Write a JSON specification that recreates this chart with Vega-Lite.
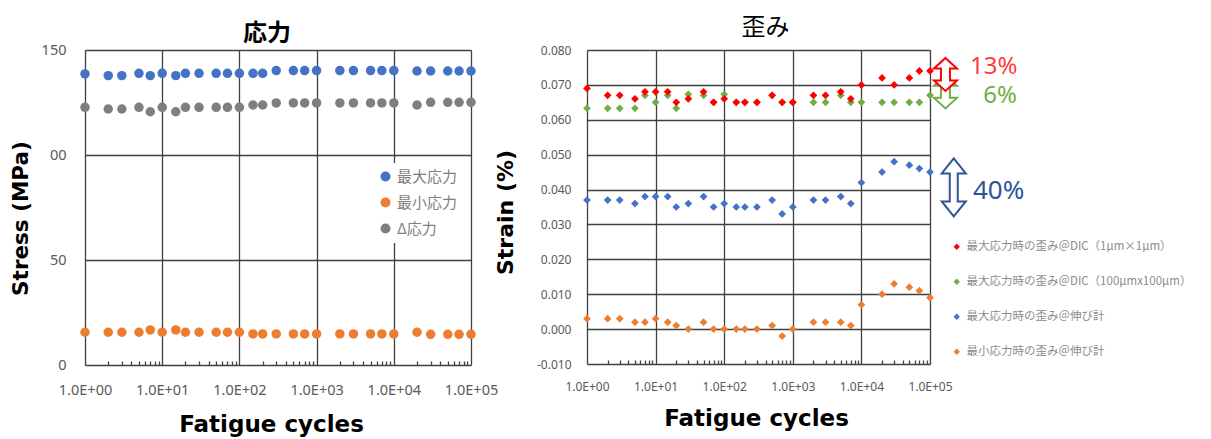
{
  "$schema": "https://vega.github.io/schema/vega-lite/v6.json",
  "background": "white",
  "padding": {"left": 10, "top": 16, "right": 5, "bottom": 5},
  "bounds": "flush",
  "spacing": 116,
  "resolve": {"scale": {"color": "independent"}, "legend": {"color": "independent"}},
  "config": {"view": {"stroke": null}, "font": "Noto Sans"},
  "datasets": {
    "stress": [
      {"c":1,"s":"最大応力","v":138.6},{"c":2,"s":"最大応力","v":137.8},{"c":3,"s":"最大応力","v":137.8},{"c":5,"s":"最大応力","v":138.9},{"c":7,"s":"最大応力","v":137.8},{"c":10,"s":"最大応力","v":138.9},{"c":15,"s":"最大応力","v":137.8},{"c":20,"s":"最大応力","v":138.9},{"c":30,"s":"最大応力","v":138.9},{"c":50,"s":"最大応力","v":138.9},{"c":70,"s":"最大応力","v":138.9},{"c":100,"s":"最大応力","v":138.9},{"c":150,"s":"最大応力","v":138.9},{"c":200,"s":"最大応力","v":138.9},{"c":300,"s":"最大応力","v":140.2},{"c":500,"s":"最大応力","v":140.2},{"c":700,"s":"最大応力","v":140.2},{"c":1000,"s":"最大応力","v":140.2},{"c":2000,"s":"最大応力","v":140.2},{"c":3000,"s":"最大応力","v":140.2},{"c":5000,"s":"最大応力","v":140.2},{"c":7000,"s":"最大応力","v":140.2},{"c":10000,"s":"最大応力","v":140.2},{"c":20000,"s":"最大応力","v":140.0},{"c":30000,"s":"最大応力","v":140.0},{"c":50000,"s":"最大応力","v":140.0},{"c":70000,"s":"最大応力","v":140.0},{"c":100000,"s":"最大応力","v":140.0},
      {"c":1,"s":"最小応力","v":15.6},{"c":2,"s":"最小応力","v":15.6},{"c":3,"s":"最小応力","v":15.6},{"c":5,"s":"最小応力","v":15.6},{"c":7,"s":"最小応力","v":16.7},{"c":10,"s":"最小応力","v":15.6},{"c":15,"s":"最小応力","v":16.7},{"c":20,"s":"最小応力","v":15.6},{"c":30,"s":"最小応力","v":15.6},{"c":50,"s":"最小応力","v":15.6},{"c":70,"s":"最小応力","v":15.6},{"c":100,"s":"最小応力","v":15.6},{"c":150,"s":"最小応力","v":14.8},{"c":200,"s":"最小応力","v":14.8},{"c":300,"s":"最小応力","v":14.8},{"c":500,"s":"最小応力","v":14.8},{"c":700,"s":"最小応力","v":14.8},{"c":1000,"s":"最小応力","v":14.8},{"c":2000,"s":"最小応力","v":14.8},{"c":3000,"s":"最小応力","v":14.8},{"c":5000,"s":"最小応力","v":14.8},{"c":7000,"s":"最小応力","v":14.8},{"c":10000,"s":"最小応力","v":14.8},{"c":20000,"s":"最小応力","v":15.6},{"c":30000,"s":"最小応力","v":14.6},{"c":50000,"s":"最小応力","v":14.6},{"c":70000,"s":"最小応力","v":14.6},{"c":100000,"s":"最小応力","v":14.6},
      {"c":1,"s":"Δ応力","v":122.7},{"c":2,"s":"Δ応力","v":121.9},{"c":3,"s":"Δ応力","v":121.9},{"c":5,"s":"Δ応力","v":122.7},{"c":7,"s":"Δ応力","v":120.6},{"c":10,"s":"Δ応力","v":122.7},{"c":15,"s":"Δ応力","v":120.6},{"c":20,"s":"Δ応力","v":122.7},{"c":30,"s":"Δ応力","v":122.7},{"c":50,"s":"Δ応力","v":122.7},{"c":70,"s":"Δ応力","v":122.7},{"c":100,"s":"Δ応力","v":122.7},{"c":150,"s":"Δ応力","v":123.8},{"c":200,"s":"Δ応力","v":123.8},{"c":300,"s":"Δ応力","v":124.8},{"c":500,"s":"Δ応力","v":124.8},{"c":700,"s":"Δ応力","v":124.8},{"c":1000,"s":"Δ応力","v":124.8},{"c":2000,"s":"Δ応力","v":124.8},{"c":3000,"s":"Δ応力","v":124.8},{"c":5000,"s":"Δ応力","v":124.8},{"c":7000,"s":"Δ応力","v":124.8},{"c":10000,"s":"Δ応力","v":124.8},{"c":20000,"s":"Δ応力","v":123.8},{"c":30000,"s":"Δ応力","v":125.1},{"c":50000,"s":"Δ応力","v":125.1},{"c":70000,"s":"Δ応力","v":125.1},{"c":100000,"s":"Δ応力","v":125.1}
    ],
    "strain": [
      {"c":1,"s":"最大応力時の歪み＠DIC（100μmx100μm）","v":0.0633},{"c":2,"s":"最大応力時の歪み＠DIC（100μmx100μm）","v":0.0633},{"c":3,"s":"最大応力時の歪み＠DIC（100μmx100μm）","v":0.0633},{"c":5,"s":"最大応力時の歪み＠DIC（100μmx100μm）","v":0.0633},{"c":7,"s":"最大応力時の歪み＠DIC（100μmx100μm）","v":0.067},{"c":10,"s":"最大応力時の歪み＠DIC（100μmx100μm）","v":0.065},{"c":15,"s":"最大応力時の歪み＠DIC（100μmx100μm）","v":0.067},{"c":20,"s":"最大応力時の歪み＠DIC（100μmx100μm）","v":0.0633},{"c":30,"s":"最大応力時の歪み＠DIC（100μmx100μm）","v":0.0673},{"c":50,"s":"最大応力時の歪み＠DIC（100μmx100μm）","v":0.067},{"c":70,"s":"最大応力時の歪み＠DIC（100μmx100μm）","v":0.065},{"c":100,"s":"最大応力時の歪み＠DIC（100μmx100μm）","v":0.0673},{"c":150,"s":"最大応力時の歪み＠DIC（100μmx100μm）","v":0.065},{"c":200,"s":"最大応力時の歪み＠DIC（100μmx100μm）","v":0.065},{"c":300,"s":"最大応力時の歪み＠DIC（100μmx100μm）","v":0.065},{"c":500,"s":"最大応力時の歪み＠DIC（100μmx100μm）","v":0.067},{"c":700,"s":"最大応力時の歪み＠DIC（100μmx100μm）","v":0.065},{"c":1000,"s":"最大応力時の歪み＠DIC（100μmx100μm）","v":0.065},{"c":2000,"s":"最大応力時の歪み＠DIC（100μmx100μm）","v":0.065},{"c":3000,"s":"最大応力時の歪み＠DIC（100μmx100μm）","v":0.065},{"c":5000,"s":"最大応力時の歪み＠DIC（100μmx100μm）","v":0.067},{"c":7000,"s":"最大応力時の歪み＠DIC（100μmx100μm）","v":0.065},{"c":10000,"s":"最大応力時の歪み＠DIC（100μmx100μm）","v":0.065},{"c":20000,"s":"最大応力時の歪み＠DIC（100μmx100μm）","v":0.065},{"c":30000,"s":"最大応力時の歪み＠DIC（100μmx100μm）","v":0.065},{"c":50000,"s":"最大応力時の歪み＠DIC（100μmx100μm）","v":0.065},{"c":70000,"s":"最大応力時の歪み＠DIC（100μmx100μm）","v":0.065},{"c":100000,"s":"最大応力時の歪み＠DIC（100μmx100μm）","v":0.067},
      {"c":1,"s":"最大応力時の歪み＠DIC（1μm×1μm）","v":0.069},{"c":2,"s":"最大応力時の歪み＠DIC（1μm×1μm）","v":0.067},{"c":3,"s":"最大応力時の歪み＠DIC（1μm×1μm）","v":0.067},{"c":5,"s":"最大応力時の歪み＠DIC（1μm×1μm）","v":0.066},{"c":7,"s":"最大応力時の歪み＠DIC（1μm×1μm）","v":0.068},{"c":10,"s":"最大応力時の歪み＠DIC（1μm×1μm）","v":0.068},{"c":15,"s":"最大応力時の歪み＠DIC（1μm×1μm）","v":0.068},{"c":20,"s":"最大応力時の歪み＠DIC（1μm×1μm）","v":0.065},{"c":30,"s":"最大応力時の歪み＠DIC（1μm×1μm）","v":0.066},{"c":50,"s":"最大応力時の歪み＠DIC（1μm×1μm）","v":0.068},{"c":70,"s":"最大応力時の歪み＠DIC（1μm×1μm）","v":0.065},{"c":100,"s":"最大応力時の歪み＠DIC（1μm×1μm）","v":0.066},{"c":150,"s":"最大応力時の歪み＠DIC（1μm×1μm）","v":0.065},{"c":200,"s":"最大応力時の歪み＠DIC（1μm×1μm）","v":0.065},{"c":300,"s":"最大応力時の歪み＠DIC（1μm×1μm）","v":0.065},{"c":500,"s":"最大応力時の歪み＠DIC（1μm×1μm）","v":0.067},{"c":700,"s":"最大応力時の歪み＠DIC（1μm×1μm）","v":0.065},{"c":1000,"s":"最大応力時の歪み＠DIC（1μm×1μm）","v":0.065},{"c":2000,"s":"最大応力時の歪み＠DIC（1μm×1μm）","v":0.067},{"c":3000,"s":"最大応力時の歪み＠DIC（1μm×1μm）","v":0.067},{"c":5000,"s":"最大応力時の歪み＠DIC（1μm×1μm）","v":0.068},{"c":7000,"s":"最大応力時の歪み＠DIC（1μm×1μm）","v":0.066},{"c":10000,"s":"最大応力時の歪み＠DIC（1μm×1μm）","v":0.070},{"c":20000,"s":"最大応力時の歪み＠DIC（1μm×1μm）","v":0.072},{"c":30000,"s":"最大応力時の歪み＠DIC（1μm×1μm）","v":0.070},{"c":50000,"s":"最大応力時の歪み＠DIC（1μm×1μm）","v":0.072},{"c":70000,"s":"最大応力時の歪み＠DIC（1μm×1μm）","v":0.074},{"c":100000,"s":"最大応力時の歪み＠DIC（1μm×1μm）","v":0.074},
      {"c":1,"s":"最大応力時の歪み＠伸び計","v":0.037},{"c":2,"s":"最大応力時の歪み＠伸び計","v":0.037},{"c":3,"s":"最大応力時の歪み＠伸び計","v":0.037},{"c":5,"s":"最大応力時の歪み＠伸び計","v":0.036},{"c":7,"s":"最大応力時の歪み＠伸び計","v":0.038},{"c":10,"s":"最大応力時の歪み＠伸び計","v":0.038},{"c":15,"s":"最大応力時の歪み＠伸び計","v":0.038},{"c":20,"s":"最大応力時の歪み＠伸び計","v":0.035},{"c":30,"s":"最大応力時の歪み＠伸び計","v":0.036},{"c":50,"s":"最大応力時の歪み＠伸び計","v":0.038},{"c":70,"s":"最大応力時の歪み＠伸び計","v":0.035},{"c":100,"s":"最大応力時の歪み＠伸び計","v":0.036},{"c":150,"s":"最大応力時の歪み＠伸び計","v":0.035},{"c":200,"s":"最大応力時の歪み＠伸び計","v":0.035},{"c":300,"s":"最大応力時の歪み＠伸び計","v":0.035},{"c":500,"s":"最大応力時の歪み＠伸び計","v":0.037},{"c":700,"s":"最大応力時の歪み＠伸び計","v":0.033},{"c":1000,"s":"最大応力時の歪み＠伸び計","v":0.035},{"c":2000,"s":"最大応力時の歪み＠伸び計","v":0.037},{"c":3000,"s":"最大応力時の歪み＠伸び計","v":0.037},{"c":5000,"s":"最大応力時の歪み＠伸び計","v":0.038},{"c":7000,"s":"最大応力時の歪み＠伸び計","v":0.036},{"c":10000,"s":"最大応力時の歪み＠伸び計","v":0.042},{"c":20000,"s":"最大応力時の歪み＠伸び計","v":0.045},{"c":30000,"s":"最大応力時の歪み＠伸び計","v":0.048},{"c":50000,"s":"最大応力時の歪み＠伸び計","v":0.047},{"c":70000,"s":"最大応力時の歪み＠伸び計","v":0.046},{"c":100000,"s":"最大応力時の歪み＠伸び計","v":0.045},
      {"c":1,"s":"最小応力時の歪み＠伸び計","v":0.003},{"c":2,"s":"最小応力時の歪み＠伸び計","v":0.003},{"c":3,"s":"最小応力時の歪み＠伸び計","v":0.003},{"c":5,"s":"最小応力時の歪み＠伸び計","v":0.002},{"c":7,"s":"最小応力時の歪み＠伸び計","v":0.002},{"c":10,"s":"最小応力時の歪み＠伸び計","v":0.003},{"c":15,"s":"最小応力時の歪み＠伸び計","v":0.002},{"c":20,"s":"最小応力時の歪み＠伸び計","v":0.001},{"c":30,"s":"最小応力時の歪み＠伸び計","v":0.0},{"c":50,"s":"最小応力時の歪み＠伸び計","v":0.002},{"c":70,"s":"最小応力時の歪み＠伸び計","v":0.0},{"c":100,"s":"最小応力時の歪み＠伸び計","v":0.0},{"c":150,"s":"最小応力時の歪み＠伸び計","v":0.0},{"c":200,"s":"最小応力時の歪み＠伸び計","v":0.0},{"c":300,"s":"最小応力時の歪み＠伸び計","v":0.0},{"c":500,"s":"最小応力時の歪み＠伸び計","v":0.001},{"c":700,"s":"最小応力時の歪み＠伸び計","v":-0.002},{"c":1000,"s":"最小応力時の歪み＠伸び計","v":0.0},{"c":2000,"s":"最小応力時の歪み＠伸び計","v":0.002},{"c":3000,"s":"最小応力時の歪み＠伸び計","v":0.002},{"c":5000,"s":"最小応力時の歪み＠伸び計","v":0.002},{"c":7000,"s":"最小応力時の歪み＠伸び計","v":0.001},{"c":10000,"s":"最小応力時の歪み＠伸び計","v":0.007},{"c":20000,"s":"最小応力時の歪み＠伸び計","v":0.010},{"c":30000,"s":"最小応力時の歪み＠伸び計","v":0.013},{"c":50000,"s":"最小応力時の歪み＠伸び計","v":0.012},{"c":70000,"s":"最小応力時の歪み＠伸び計","v":0.011},{"c":100000,"s":"最小応力時の歪み＠伸び計","v":0.009}
    ],
    "notes": [
      {"k":"13%","ax":168000,"ay":0.0730,"tx":850000,"ty":0.0752},
      {"k":"6%","ax":168000,"ay":0.0680,"tx":1050000,"ty":0.0667},
      {"k":"40%","ax":222000,"ay":0.0406,"tx":1000000,"ty":0.0397}
    ]
  },
  "hconcat": [
    {
      "width": 386,
      "height": 315,
      "title": {"text": "応力", "font": "Noto Sans CJK JP", "fontSize": 24, "fontWeight": "bold", "color": "#000000", "anchor": "middle", "offset": -4, "dx": -11},
      "data": {"name": "stress"},
      "layer": [
        {
          "mark": {"type": "point", "filled": true, "shape": "circle", "size": 90, "opacity": 1},
          "encoding": {
            "x": {"field": "c", "type": "quantitative", "scale": {"type": "log", "domain": [1, 100000]},
              "axis": {"values": [1, 10, 100, 1000, 10000, 100000], "labelExpr": "'1.0E+0' + round(log(datum.value) / LN10)", "grid": true, "gridColor": "#404040", "gridWidth": 1.3, "domain": false, "ticks": false, "labelFont": "Noto Sans", "labelFontSize": 14.5, "labelColor": "#595959", "labelPadding": 18, "labelFlush": false, "labelOverlap": false, "title": "Fatigue cycles", "titleFont": "DejaVu Sans", "titleFontSize": 23, "titleFontWeight": "bold", "titleColor": "#000000", "titlePadding": 17, "titleX": 186}},
            "y": {"field": "v", "type": "quantitative", "scale": {"domain": [0, 150], "nice": false},
              "axis": {"values": [0, 50, 100, 150], "labelExpr": "datum.value == 100 ? '00' : datum.label", "grid": true, "gridColor": "#404040", "gridWidth": 1.3, "domain": false, "ticks": false, "labelFont": "Noto Sans", "labelFontSize": 14.5, "labelColor": "#595959", "labelPadding": 19, "title": "Stress (MPa)", "titleFont": "DejaVu Sans", "titleFontSize": 21.5, "titleFontWeight": "bold", "titleColor": "#000000", "titlePadding": 9, "titleY": 168}},
            "color": {"field": "s", "type": "nominal", "scale": {"domain": ["最大応力", "最小応力", "Δ応力"], "range": ["#4472C4", "#ED7D31", "#7F7F7F"]},
              "legend": {"orient": "none", "legendX": 287, "legendY": 113, "title": null, "fillColor": "white", "padding": 6, "labelFont": "Noto Sans CJK JP", "labelFontSize": 15, "labelColor": "#7f7f7f", "symbolType": "circle", "symbolSize": 100, "rowPadding": 10, "symbolStrokeWidth": 0}}
          }
        },
        {
          "mark": {"type": "point", "opacity": 0},
          "encoding": {
            "x": {"field": "c", "type": "quantitative", "scale": {"type": "log", "domain": [1, 100000]},
              "axis": {"orient": "bottom", "values": [2,3,4,5,6,7,8,9,20,30,40,50,60,70,80,90,200,300,400,500,600,700,800,900,2000,3000,4000,5000,6000,7000,8000,9000,20000,30000,40000,50000,60000,70000,80000,90000], "labels": false, "grid": false, "domain": false, "ticks": true, "tickSize": -4, "tickColor": "#404040", "tickWidth": 1.3, "title": null}}
          }
        }
      ],
      "resolve": {"axis": {"x": "independent"}}
    },
    {
      "width": 343,
      "height": 314,
      "title": {"text": "歪み", "font": "Noto Sans CJK JP", "fontSize": 24, "fontWeight": "normal", "color": "#000000", "anchor": "middle", "offset": 4, "dx": 7},
      "layer": [
        {
          "data": {"name": "strain"},
          "mark": {"type": "point", "filled": true, "shape": "diamond", "size": 60, "opacity": 1},
          "encoding": {
            "x": {"field": "c", "type": "quantitative", "scale": {"type": "log", "domain": [1, 100000]},
              "axis": {"values": [1, 10, 100, 1000, 10000, 100000], "labelExpr": "'1.0E+0' + round(log(datum.value) / LN10)", "grid": true, "gridColor": "#404040", "gridWidth": 1.3, "domain": false, "ticks": false, "labelFont": "Noto Sans", "labelFontSize": 12, "labelColor": "#595959", "labelPadding": 17, "labelFlush": false, "labelOverlap": false, "title": "Fatigue cycles", "titleFont": "DejaVu Sans", "titleFontSize": 23, "titleFontWeight": "bold", "titleColor": "#000000", "titlePadding": 15, "titleX": 169}},
            "y": {"field": "v", "type": "quantitative", "scale": {"domain": [-0.01, 0.08], "nice": false},
              "axis": {"values": [-0.01, 0, 0.01, 0.02, 0.03, 0.04, 0.05, 0.06, 0.07, 0.08], "labelExpr": "replace(format(datum.value, '.3f'), '−', '-')", "grid": true, "gridColor": "#404040", "gridWidth": 1.3, "domain": false, "ticks": false, "labelFont": "Noto Sans", "labelFontSize": 12, "labelColor": "#595959", "labelPadding": 16, "title": "Strain (%)", "titleFont": "DejaVu Sans", "titleFontSize": 22, "titleFontWeight": "bold", "titleColor": "#000000", "titlePadding": 19, "titleY": 162}},
            "color": {"field": "s", "type": "nominal", "scale": {"domain": ["最大応力時の歪み＠DIC（1μm×1μm）", "最大応力時の歪み＠DIC（100μmx100μm）", "最大応力時の歪み＠伸び計", "最小応力時の歪み＠伸び計"], "range": ["#FF0000", "#70AD47", "#4472C4", "#ED7D31"]},
              "legend": {"orient": "none", "legendX": 364, "legendY": 191, "title": null, "labelFont": "Noto Sans CJK JP", "labelFontSize": 11.5, "labelColor": "#8c8c8c", "symbolType": "diamond", "symbolSize": 40, "rowPadding": 22, "labelLimit": 400, "symbolStrokeWidth": 0}}
          }
        },
        {
          "data": {"name": "strain"},
          "mark": {"type": "point", "opacity": 0},
          "encoding": {
            "x": {"field": "c", "type": "quantitative", "scale": {"type": "log", "domain": [1, 100000]},
              "axis": {"orient": "bottom", "values": [2,3,4,5,6,7,8,9,20,30,40,50,60,70,80,90,200,300,400,500,600,700,800,900,2000,3000,4000,5000,6000,7000,8000,9000,20000,30000,40000,50000,60000,70000,80000,90000], "labels": false, "grid": false, "domain": false, "ticks": true, "tickSize": -4, "tickColor": "#404040", "tickWidth": 1.3, "title": null}}
          }
        },
        {
          "data": {"name": "notes"},
          "transform": [{"filter": "datum.k == '6%'"}],
          "mark": {"type": "point", "shape": "M0,-16.5L11.5,-6L4.5,-6L4.5,6L11.5,6L0,16.5L-11.5,6L-4.5,6L-4.5,-6L-11.5,-6Z", "size": 4, "filled": true, "fill": "white", "stroke": "#70AD47", "strokeWidth": 2, "opacity": 1},
          "encoding": {
            "x": {"field": "ax", "type": "quantitative", "scale": {"type": "log", "domain": [1, 100000]}, "axis": null},
            "y": {"field": "ay", "type": "quantitative", "scale": {"domain": [-0.01, 0.08], "nice": false}, "axis": null}
          }
        },
        {
          "data": {"name": "notes"},
          "transform": [{"filter": "datum.k == '13%'"}],
          "mark": {"type": "point", "shape": "M0,-16.5L11.5,-6L4.5,-6L4.5,6L11.5,6L0,16.5L-11.5,6L-4.5,6L-4.5,-6L-11.5,-6Z", "size": 4, "filled": true, "fill": "white", "stroke": "#FF0000", "strokeWidth": 2, "opacity": 1},
          "encoding": {
            "x": {"field": "ax", "type": "quantitative", "scale": {"type": "log", "domain": [1, 100000]}, "axis": null},
            "y": {"field": "ay", "type": "quantitative", "scale": {"domain": [-0.01, 0.08], "nice": false}, "axis": null}
          }
        },
        {
          "data": {"name": "notes"},
          "transform": [{"filter": "datum.k == '40%'"}],
          "mark": {"type": "point", "shape": "M0,-29L12,-14L4,-14L4,14L12,14L0,29L-12,14L-4,14L-4,-14L-12,-14Z", "size": 4, "filled": true, "fill": "white", "stroke": "#2F5597", "strokeWidth": 2, "opacity": 1},
          "encoding": {
            "x": {"field": "ax", "type": "quantitative", "scale": {"type": "log", "domain": [1, 100000]}, "axis": null},
            "y": {"field": "ay", "type": "quantitative", "scale": {"domain": [-0.01, 0.08], "nice": false}, "axis": null}
          }
        },
        {
          "data": {"name": "notes"},
          "transform": [{"filter": "datum.k == '13%'"}],
          "mark": {"type": "text", "font": "Noto Sans", "fontSize": 24, "align": "center", "baseline": "middle", "color": "#FF3B3B"},
          "encoding": {
            "x": {"field": "tx", "type": "quantitative", "scale": {"type": "log", "domain": [1, 100000]}, "axis": null},
            "y": {"field": "ty", "type": "quantitative", "scale": {"domain": [-0.01, 0.08], "nice": false}, "axis": null},
            "text": {"field": "k"}
          }
        },
        {
          "data": {"name": "notes"},
          "transform": [{"filter": "datum.k == '6%'"}],
          "mark": {"type": "text", "font": "Noto Sans", "fontSize": 24, "align": "center", "baseline": "middle", "color": "#70AD47"},
          "encoding": {
            "x": {"field": "tx", "type": "quantitative", "scale": {"type": "log", "domain": [1, 100000]}, "axis": null},
            "y": {"field": "ty", "type": "quantitative", "scale": {"domain": [-0.01, 0.08], "nice": false}, "axis": null},
            "text": {"field": "k"}
          }
        },
        {
          "data": {"name": "notes"},
          "transform": [{"filter": "datum.k == '40%'"}],
          "mark": {"type": "text", "font": "Noto Sans", "fontSize": 26, "align": "center", "baseline": "middle", "color": "#2F5597"},
          "encoding": {
            "x": {"field": "tx", "type": "quantitative", "scale": {"type": "log", "domain": [1, 100000]}, "axis": null},
            "y": {"field": "ty", "type": "quantitative", "scale": {"domain": [-0.01, 0.08], "nice": false}, "axis": null},
            "text": {"field": "k"}
          }
        }
      ],
      "resolve": {"axis": {"x": "independent", "y": "independent"}}
    }
  ]
}
